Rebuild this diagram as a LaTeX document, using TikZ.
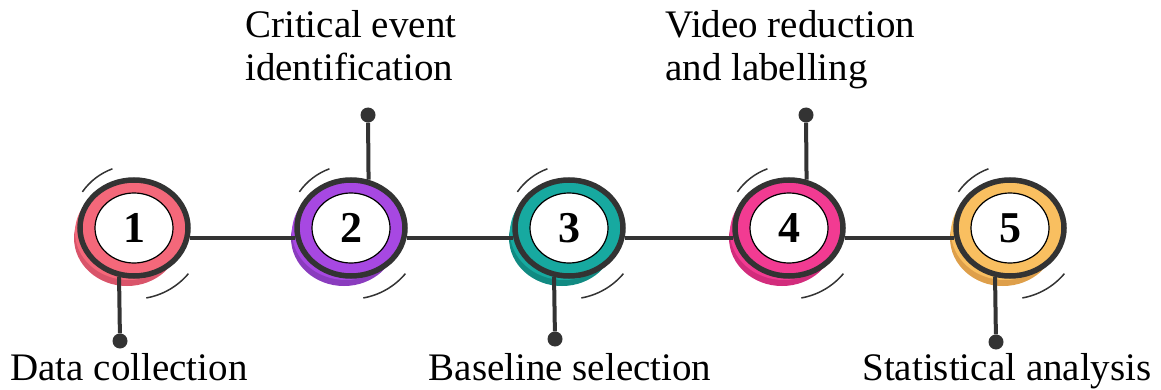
\documentclass[tikz,border=0pt]{standalone}
\usepackage{fontspec}
\setmainfont{Liberation Serif}
\usetikzlibrary{shapes.geometric,positioning}

\definecolor{ink}{HTML}{333333}
\definecolor{pinkA}{HTML}{F4687A}
\definecolor{pinkB}{HTML}{D9546A}
\definecolor{violetA}{HTML}{A748E2}
\definecolor{violetB}{HTML}{8A3CBE}
\definecolor{tealA}{HTML}{17A9A0}
\definecolor{tealB}{HTML}{118A82}
\definecolor{roseA}{HTML}{F23B92}
\definecolor{roseB}{HTML}{D22C7C}
\definecolor{amberA}{HTML}{F9BF60}
\definecolor{amberB}{HTML}{DE9F4A}

\tikzset{
  ring/.style={ellipse, draw=ink, line width=5.5pt, minimum width=108pt, minimum height=96pt, inner sep=0pt},
  core/.style={ellipse, draw=black, line width=1.2pt, fill=white, minimum width=78pt, minimum height=70pt, inner sep=0pt, font=\fontsize{44}{44}\selectfont\bfseries},
  link/.style={draw=ink, line width=4pt},
  dot/.style={circle, fill=ink, inner sep=0pt, minimum size=15pt},
  lbl/.style={font=\fontsize{39}{43}\selectfont, inner sep=0pt},
  swish/.style={draw=ink, line width=1.5pt}
}

\begin{document}
\begin{tikzpicture}[x=1pt,y=1pt]
\useasboundingbox (0,0) rectangle (1161,389);

% coloured backs
\fill[pinkB] (127,151) ellipse [x radius=53pt, y radius=48pt];
\fill[pinkA] (129,157) ellipse [x radius=54pt, y radius=48pt];
\fill[violetB] (344,151) ellipse [x radius=53pt, y radius=48pt];
\fill[violetA] (346,157) ellipse [x radius=54pt, y radius=48pt];
\fill[tealB] (562,151) ellipse [x radius=53pt, y radius=48pt];
\fill[tealA] (564,157) ellipse [x radius=54pt, y radius=48pt];
\fill[roseB] (782,151) ellipse [x radius=53pt, y radius=48pt];
\fill[roseA] (784,157) ellipse [x radius=54pt, y radius=48pt];
\fill[amberB] (1003,151) ellipse [x radius=53pt, y radius=48pt];
\fill[amberA] (1005,157) ellipse [x radius=54pt, y radius=48pt];

% rings
\node[ring, fill=pinkA] (c1) at (134,161) {};
\node[ring, fill=violetA] (c2) at (351,161) {};
\node[ring, fill=tealA] (c3) at (569,161) {};
\node[ring, fill=roseA] (c4) at (789,161) {};
\node[ring, fill=amberA] (c5) at (1010,161) {};

\node[core] (n1) at (c1) {1};
\node[core] (n2) at (c2) {2};
\node[core] (n3) at (c3) {3};
\node[core] (n4) at (c4) {4};
\node[core] (n5) at (c5) {5};

% swishes
\foreach \c in {c1,c2,c3,c4,c5} {
  \draw[swish] ([shift={(110:63pt)}]\c.center) arc[start angle=110, end angle=145, radius=63pt];
  \draw[swish] ([shift={(-80:71pt)}]\c.center) arc[start angle=-80, end angle=-40, radius=71pt];
}

% timeline
\draw[link] (c1.-10) -- (c2.190);
\draw[link] (c2.-10) -- (c3.190);
\draw[link] (c3.-10) -- (c4.190);
\draw[link] (c4.-10) -- (c5.190);

% stems
\node[dot] (d1) at (120,48) {};
\node[dot] (d2) at (368,274) {};
\node[dot] (d3) at (555,50) {};
\node[dot] (d4) at (806,274) {};
\node[dot] (d5) at (996,47) {};

\draw[link] (c1.253) -- (d1);
\draw[link] (c2.70) -- (d2);
\draw[link] (c3.253) -- (d3);
\draw[link] (c4.70) -- (d4);
\draw[link] (c5.253) -- (d5);

% labels
\node[lbl, anchor=base] (l1) at (129,9) {Data collection};
\node[lbl, anchor=north west, align=left] (l2) at (245,379) {Critical event\\identification};
\node[lbl, anchor=base] (l3) at (570,9) {Baseline selection};
\node[lbl, anchor=north west, align=left] (l4) at (665,379) {Video reduction\\and labelling};
\node[lbl, anchor=base] (l5) at (1007,9) {Statistical analysis};
\end{tikzpicture}
\end{document}
